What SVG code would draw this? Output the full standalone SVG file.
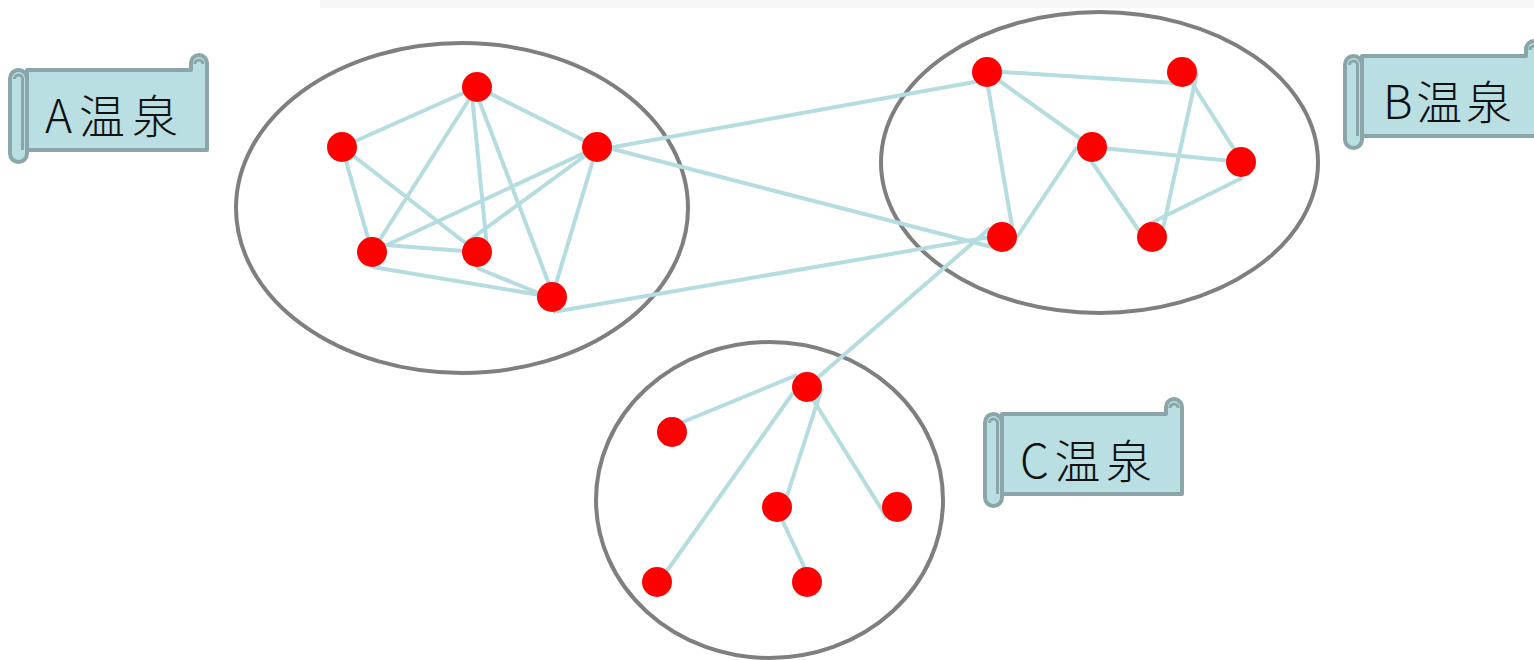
<svg xmlns="http://www.w3.org/2000/svg" width="1534" height="660" viewBox="0 0 1534 660">
<defs>
<style>
.edge{stroke:#b5dde0;stroke-width:4;stroke-linecap:butt;fill:none}
.node{fill:#ff0000}
.cluster{fill:none;stroke:#7f7f7f;stroke-width:4}
.scroll{fill:#b9dfe3;stroke:#8ba6a8;stroke-width:4;stroke-linejoin:round}
.curl{fill:none;stroke:#8ba6a8;stroke-width:3}
.label{font-family:"Noto Sans CJK JP","Noto Sans",sans-serif;font-size:46px;font-weight:300;fill:#111}
</style>
<g id="scrollShape">
<path class="scroll" d="M17,0 H181 V-7 A8,8 0 0 1 197,-7 V80 H17 Z"/>
<path class="curl" d="M185,-6 A4,4 0 0 1 193,-6"/>
<rect class="scroll" x="0" y="0" width="17" height="92" rx="8.5"/>
<path class="curl" d="M4.5,9 A4,4 0 0 1 12.5,9 V80"/>
</g>
</defs>
<rect width="1534" height="660" fill="#ffffff"/>
<rect x="320" y="0" width="1214" height="8" fill="#f7f7f7"/>

<g id="clusters">
<ellipse id="clusterA" class="cluster" cx="462" cy="208" rx="226" ry="165"/>
<ellipse id="clusterB" class="cluster" cx="1099.5" cy="162.5" rx="218.5" ry="150.5"/>
<ellipse id="clusterC" class="cluster" cx="769.5" cy="500" rx="173.5" ry="158"/>
</g>

<g id="connectors">
<line class="edge" x1="477" y1="87" x2="342" y2="147"/>
<line class="edge" x1="477" y1="87" x2="597" y2="147"/>
<line class="edge" x1="477" y1="87" x2="372" y2="252"/>
<line class="edge" x1="472" y1="95" x2="487" y2="248"/>
<line class="edge" x1="477" y1="95" x2="552" y2="292"/>
<line class="edge" x1="342" y1="147" x2="372" y2="252"/>
<line class="edge" x1="342" y1="147" x2="477" y2="252"/>
<line class="edge" x1="597" y1="147" x2="372" y2="252"/>
<line class="edge" x1="597" y1="147" x2="467" y2="242"/>
<line class="edge" x1="597" y1="147" x2="552" y2="297"/>
<line class="edge" x1="372" y1="244" x2="477" y2="252"/>
<line class="edge" x1="373" y1="267" x2="552" y2="297"/>
<line class="edge" x1="477" y1="268" x2="548" y2="297"/>
<line class="edge" x1="553" y1="312" x2="990" y2="237"/>
<line class="edge" x1="597" y1="145" x2="992" y2="247"/>
<line class="edge" x1="597" y1="150" x2="980" y2="81"/>
<line class="edge" x1="807" y1="387" x2="990" y2="228"/>
<line class="edge" x1="987" y1="71" x2="1175" y2="83"/>
<line class="edge" x1="987" y1="72" x2="1092" y2="147"/>
<line class="edge" x1="986" y1="75" x2="1013" y2="232"/>
<line class="edge" x1="1092" y1="147" x2="1241" y2="162"/>
<line class="edge" x1="1077" y1="147" x2="1017" y2="237"/>
<line class="edge" x1="1085" y1="152" x2="1142" y2="235"/>
<line class="edge" x1="1190" y1="80" x2="1241" y2="160"/>
<line class="edge" x1="1197" y1="73" x2="1163" y2="228"/>
<line class="edge" x1="1242" y1="178" x2="1147" y2="225"/>
<line class="edge" x1="797" y1="375" x2="678" y2="424"/>
<line class="edge" x1="793" y1="393" x2="662" y2="578"/>
<line class="edge" x1="822" y1="388" x2="784" y2="505"/>
<line class="edge" x1="807" y1="390" x2="887" y2="518"/>
<line class="edge" x1="775" y1="505" x2="808" y2="575"/>
</g>

<g id="nodes">
<circle id="a1" class="node" cx="477" cy="87" r="15"/>
<circle id="a2" class="node" cx="342" cy="147" r="15"/>
<circle id="a3" class="node" cx="597" cy="147" r="15"/>
<circle id="a4" class="node" cx="372" cy="252" r="15"/>
<circle id="a5" class="node" cx="477" cy="252" r="15"/>
<circle id="a6" class="node" cx="552" cy="297" r="15"/>
<circle id="b1" class="node" cx="987" cy="72" r="15"/>
<circle id="b2" class="node" cx="1182" cy="72" r="15"/>
<circle id="b3" class="node" cx="1092" cy="147" r="15"/>
<circle id="b4" class="node" cx="1241" cy="162" r="15"/>
<circle id="b5" class="node" cx="1002" cy="237" r="15"/>
<circle id="b6" class="node" cx="1152" cy="237" r="15"/>
<circle id="c1" class="node" cx="807" cy="387" r="15"/>
<circle id="c2" class="node" cx="672" cy="432" r="15"/>
<circle id="c3" class="node" cx="777" cy="507" r="15"/>
<circle id="c4" class="node" cx="897" cy="507" r="15"/>
<circle id="c5" class="node" cx="657" cy="582" r="15"/>
<circle id="c6" class="node" cx="807" cy="582" r="15"/>
</g>

<g id="labelA">
<use href="#scrollShape" transform="translate(10,70)"/>
<text class="label" x="45" y="133" textLength="133" lengthAdjust="spacing">A温泉</text>
</g>
<g id="labelB">
<use href="#scrollShape" transform="translate(1345,56)"/>
<text class="label" x="1383" y="119" textLength="129" lengthAdjust="spacing">B温泉</text>
</g>
<g id="labelC">
<use href="#scrollShape" transform="translate(985,414)"/>
<text class="label" x="1020" y="478" textLength="132" lengthAdjust="spacing">C温泉</text>
</g>
</svg>
